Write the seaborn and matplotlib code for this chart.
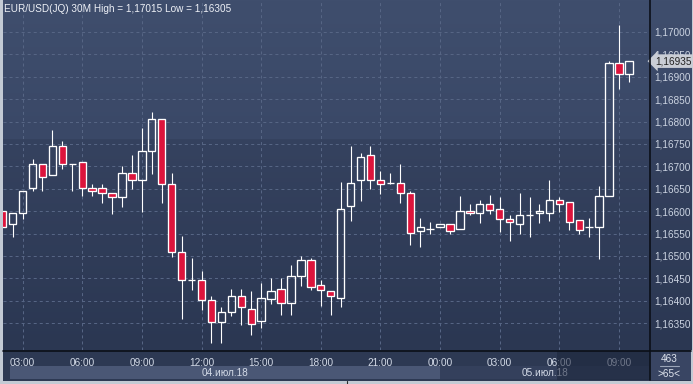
import numpy as np
import pandas as pd
import matplotlib
matplotlib.use("Agg")
import matplotlib.pyplot as plt
import seaborn as sns
from matplotlib.patches import Rectangle
from matplotlib.lines import Line2D
from matplotlib.ticker import FixedLocator, FuncFormatter

# ---------------- data ----------------
title = "EUR/USD(JQ) 30M High = 1,17015 Low = 1,16305"
times = pd.date_range("2018-07-04 02:00", periods=64, freq="30min")
opens = [1.16600, 1.16571, 1.16595, 1.16651, 1.16705, 1.16680, 1.16745, 1.16705,
         1.16709, 1.16651, 1.16651, 1.16640, 1.16631, 1.16685, 1.16669, 1.16735,
         1.16805, 1.16660, 1.16510, 1.16446, 1.16446, 1.16401, 1.16353, 1.16374,
         1.16410, 1.16381, 1.16354, 1.16405, 1.16426, 1.16394, 1.16455, 1.16490,
         1.16435, 1.16421, 1.16406, 1.16611, 1.16669, 1.16725, 1.16669, 1.16664,
         1.16664, 1.16640, 1.16555, 1.16560, 1.16564, 1.16571, 1.16560, 1.16600,
         1.16595, 1.16615, 1.16604, 1.16583, 1.16571, 1.16591, 1.16595, 1.16595,
         1.16624, 1.16620, 1.16580, 1.16564, 1.16564, 1.16635, 1.16930, 1.16906]
highs = [1.16600, 1.16595, 1.16645, 1.16717, 1.16705, 1.16781, 1.16757, 1.16705,
         1.16709, 1.16661, 1.16661, 1.16640, 1.16701, 1.16725, 1.16786, 1.16821,
         1.16805, 1.16685, 1.16544, 1.16495, 1.16467, 1.16411, 1.16386, 1.16426,
         1.16426, 1.16422, 1.16440, 1.16451, 1.16451, 1.16480, 1.16499, 1.16495,
         1.16446, 1.16421, 1.16665, 1.16746, 1.16729, 1.16746, 1.16689, 1.16685,
         1.16705, 1.16644, 1.16584, 1.16575, 1.16571, 1.16571, 1.16635, 1.16615,
         1.16624, 1.16636, 1.16632, 1.16591, 1.16641, 1.16632, 1.16615, 1.16670,
         1.16632, 1.16620, 1.16580, 1.16585, 1.16656, 1.16935, 1.17015, 1.16935]
lows = [1.16564, 1.16543, 1.16583, 1.16644, 1.16644, 1.16680, 1.16694, 1.16644,
        1.16635, 1.16635, 1.16619, 1.16594, 1.16610, 1.16650, 1.16599, 1.16684,
        1.16619, 1.16498, 1.16360, 1.16424, 1.16380, 1.16305, 1.16305, 1.16365,
        1.16345, 1.16324, 1.16340, 1.16393, 1.16369, 1.16369, 1.16433, 1.16425,
        1.16389, 1.16368, 1.16386, 1.16579, 1.16623, 1.16650, 1.16639, 1.16660,
        1.16619, 1.16525, 1.16519, 1.16550, 1.16564, 1.16550, 1.16560, 1.16591,
        1.16574, 1.16594, 1.16554, 1.16534, 1.16550, 1.16543, 1.16574, 1.16578,
        1.16599, 1.16558, 1.16550, 1.16543, 1.16494, 1.16635, 1.16873, 1.16889]
closes = [1.16564, 1.16595, 1.16645, 1.16705, 1.16676, 1.16745, 1.16705, 1.16705,
          1.16651, 1.16644, 1.16640, 1.16631, 1.16685, 1.16669, 1.16735, 1.16805,
          1.16660, 1.16510, 1.16446, 1.16446, 1.16401, 1.16353, 1.16374, 1.16410,
          1.16386, 1.16349, 1.16406, 1.16421, 1.16394, 1.16455, 1.16490, 1.16430,
          1.16425, 1.16411, 1.16604, 1.16664, 1.16720, 1.16669, 1.16660, 1.16664,
          1.16640, 1.16551, 1.16564, 1.16560, 1.16571, 1.16555, 1.16600, 1.16596,
          1.16615, 1.16603, 1.16583, 1.16575, 1.16591, 1.16591, 1.16600, 1.16624,
          1.16615, 1.16575, 1.16559, 1.16564, 1.16635, 1.16930, 1.16906, 1.16935]
time_labels = ["03:00", "06:00", "09:00", "12:00", "15:00", "18:00", "21:00",
               "00:00", "03:00", "06:00", "09:00"]
date_labels = ["04.июл.18", "05.июл.18"]
price_ticks = [1.16350, 1.16400, 1.16450, 1.16500, 1.16550, 1.16600, 1.16650,
               1.16700, 1.16750, 1.16800, 1.16850, 1.16900, 1.16950, 1.17000]
last_price = 1.16935
bar_count = "463"
zoom_text = ">65<"

df = pd.DataFrame({"time": times, "open": opens, "high": highs,
                   "low": lows, "close": closes})
df["idx"] = np.arange(len(df))
df["top"] = df[["open", "close"]].max(axis=1)
df["bot"] = df[["open", "close"]].min(axis=1)
df["bull"] = df["close"] >= df["open"]

# ---------------- style ----------------
sns.set_theme(style="dark")
plt.rcParams["font.family"] = ["Liberation Sans", "DejaVu Sans"]

W, H = 693, 384
fig = plt.figure(figsize=(W / 100, H / 100), dpi=100, facecolor="#c3cad4")


def fa(x0, y0, x1, y1):
    return [x0 / W, 1 - y1 / H, (x1 - x0) / W, (y1 - y0) / H]


def rect(x0, y0, x1, y1, color, z=-5, alpha=1.0):
    fig.add_artist(Rectangle((x0 / W, 1 - y1 / H), (x1 - x0) / W, (y1 - y0) / H,
                             transform=fig.transFigure, facecolor=color,
                             edgecolor="none", zorder=z, alpha=alpha))


def hline(x0, x1, y, color, lw=1.0, z=6):
    fig.add_artist(Line2D([x0 / W, x1 / W], [1 - y / H, 1 - y / H],
                          transform=fig.transFigure, color=color, lw=lw, zorder=z))


def vline(x, y0, y1, color, lw=1.0, z=6):
    fig.add_artist(Line2D([x / W, x / W], [1 - y0 / H, 1 - y1 / H],
                          transform=fig.transFigure, color=color, lw=lw, zorder=z))


def hexrgb(h):
    return np.array([int(h[i:i + 2], 16) for i in (1, 3, 5)]) / 255


# overall dark body
rect(2.5, 0, 691, 381, "#2d3953", z=-6)

# two-tone gradient background for plot + price panel (350 pixel rows)
rows = []
for r in range(350):
    if r < 139:
        f = r / 139
        c = hexrgb("#3f4e6d") * (1 - f) + hexrgb("#3a4867") * f
    else:
        f = (r - 139) / (350 - 139)
        c = hexrgb("#35425f") * (1 - f) + hexrgb("#2b3752") * f
    rows.append(c)
grad = np.array(rows)[:, None, :]
bg = fig.add_axes(fa(2.5, 0, 691, 350), zorder=-3)
bg.imshow(grad, aspect="auto", extent=[0, 1, 0, 1], interpolation="nearest")
bg.set_xlim(0, 1)
bg.set_ylim(0, 1)
bg.set_xticks([])
bg.set_yticks([])
for s in bg.spines.values():
    s.set_visible(False)

# bottom time-axis rows
rect(10, 366, 440, 379, "#4a5775", z=-2)
rect(440, 366, 649, 379, "#34405c", z=-2)
rect(650, 351, 691, 380, "#394563", z=-2)
rect(557, 351, 649, 380, "#1c253b", z=10, alpha=0.55)

# main axes
ax = fig.add_axes(fa(3, 0, 649, 350), zorder=1)
ax.set_facecolor("none")
for s in ax.spines.values():
    s.set_visible(False)

spacing_px = 9.94
ax.set_xlim((3 - 2.7) / spacing_px, (649 - 2.7) / spacing_px)
ax.set_ylim(1.17 - 318 / 44800, 1.17 + 32 / 44800)

# grid / ticks
xt = [2 + 6 * k for k in range(len(time_labels))]
ax.xaxis.set_major_locator(FixedLocator(xt))
ax.set_xticklabels(time_labels)
ax.yaxis.set_major_locator(FixedLocator(price_ticks))
ax.yaxis.set_major_formatter(FuncFormatter(lambda v, p: f"{v:.5f}".replace(".", ",")))
ax.yaxis.tick_right()
ax.grid(True, color="#566584", lw=0.75, linestyle=(0, (2.9, 2.9)))
ax.tick_params(axis="y", length=0, pad=4, labelsize=7.2, labelcolor="#ccd4e2")
ax.tick_params(axis="x", length=0, pad=5.5, labelsize=7.2, labelcolor="#d4dbe8")

# wicks (split so hollow bodies stay hollow)
ax.vlines(df["idx"], df["top"], df["high"], color="white", lw=0.8, zorder=3)
ax.vlines(df["idx"], df["low"], df["bot"], color="white", lw=0.8, zorder=3)

# bodies
colors = np.where(df["bull"], "none", "#dc143c")
ax.bar(df["idx"], df["top"] - df["bot"], bottom=df["bot"], width=0.74,
       color=colors, edgecolor="white", linewidth=0.95, zorder=4)

# title
fig.text(4 / W, 1 - 8.5 / H, title, fontsize=7.2, color="#eef1f7",
         va="center", ha="left", zorder=12)

# last price marker (covers the 1,16950 label as in the original)
ax.annotate(f"{last_price:.5f}".replace(".", ","), xy=(1, last_price),
            xycoords=("axes fraction", "data"), xytext=(4.2, 0),
            textcoords="offset points", ha="left", va="center", fontsize=7.2,
            color="#202020", annotation_clip=False, zorder=15,
            bbox=dict(boxstyle="larrow,pad=0.18", fc="#c9cdd5", ec="none"))

# date labels
fig.text(225 / W, 1 - 373 / H, date_labels[0], fontsize=7.2, color="#d4dbe8",
         ha="center", va="center", zorder=8)
fig.text(545 / W, 1 - 373 / H, date_labels[1], fontsize=7.2, color="#d4dbe8",
         ha="center", va="center", zorder=8)

# bottom-right counter
fig.text(669 / W, 1 - 358.5 / H, bar_count, fontsize=7.2, color="#dfe4ee",
         ha="center", va="center", zorder=12)
hline(660, 679, 366, "#9aa4b8", lw=0.8, z=12)
fig.text(669 / W, 1 - 374 / H, zoom_text, fontsize=7.2, color="#dfe4ee",
         ha="center", va="center", zorder=12)

# separators
vline(649.5, 0, 380, "#0b0f18", lw=1.2, z=11)
hline(3, 691, 350.5, "#0b0f18", lw=1.2, z=11)
vline(347, 380.5, 384, "#2a2a2a", lw=0.8, z=11)

fig.savefig("out.png", dpi=100, facecolor=fig.get_facecolor())
